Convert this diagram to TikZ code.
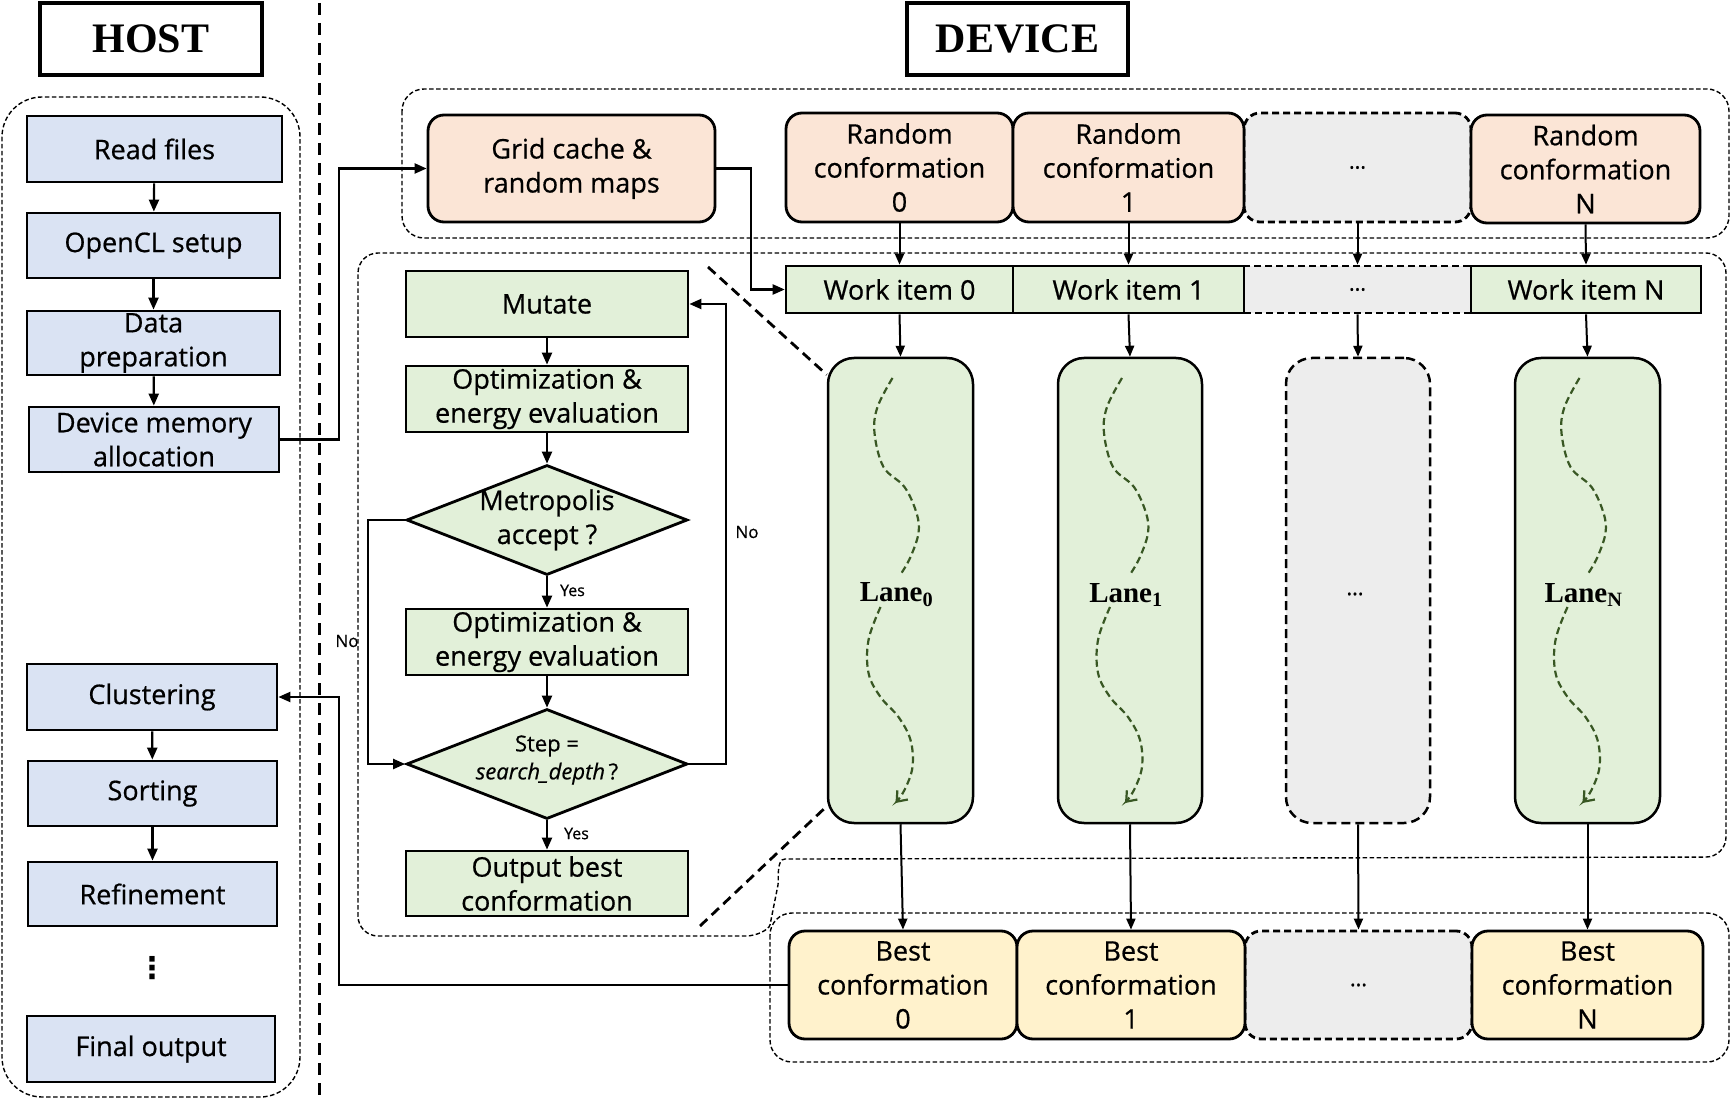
\documentclass[tikz,border=0pt]{standalone}
\usepackage{fontspec}
\setmainfont{Open Sans}[FakeBold=0.6, BoldFont=Open Sans]
\newfontfamily\titlefont{Liberation Serif}
\newfontfamily\dejavu{DejaVu Sans}
\usetikzlibrary{arrows.meta,shapes.geometric,calc}
\definecolor{hostblue}{HTML}{DAE3F3}
\definecolor{peach}{HTML}{FBE5D6}
\definecolor{lgreen}{HTML}{E2F0D9}
\definecolor{lyellow}{HTML}{FFF2CC}
\definecolor{lgray}{HTML}{EDEDED}
\definecolor{wavegreen}{HTML}{385723}
\begin{document}
\begin{tikzpicture}[x=1pt,y=-1pt,
  every node/.style={inner sep=0pt},
  txt/.style={font=\bfseries\fontsize{27}{34}\selectfont, align=center},
  smalltxt/.style={font=\bfseries\fontsize{16}{16}\selectfont},
  titlebox/.style={draw, line width=4pt, minimum width=222pt, minimum height=72pt,
    font=\titlefont\bfseries\fontsize{42}{42}\selectfont},
  hbox/.style={txt, draw, line width=2.8pt, fill=hostblue, minimum height=65pt},
  fbox/.style={txt, draw, line width=2.8pt, fill=lgreen, minimum width=282pt, minimum height=66pt},
  dia/.style={shape=diamond, draw, line width=2.8pt, fill=lgreen, minimum width=281pt, minimum height=110pt},
  rbox/.style={txt, draw, line width=2.8pt, fill=peach, rounded corners=16pt, minimum height=109pt},
  ybox/.style={txt, draw, line width=2.8pt, fill=lyellow, rounded corners=16pt, minimum height=108pt},
  gbox/.style={draw, line width=2.8pt, dash pattern=on 7pt off 4pt, fill=lgray, rounded corners=16pt,
    font=\bfseries\fontsize{22}{22}\selectfont},
  wbox/.style={txt, draw, line width=2.6pt, fill=lgreen, minimum height=47pt},
  wgbox/.style={draw, line width=2.6pt, dash pattern=on 7pt off 4pt, fill=lgray, minimum height=47pt,
    font=\bfseries\fontsize{22}{22}\selectfont},
  lanebox/.style={draw, line width=2.5pt, fill=lgreen, rounded corners=26pt, minimum width=145pt, minimum height=465pt},
  lanegray/.style={draw, line width=2.5pt, dash pattern=on 9pt off 5pt, fill=lgray, rounded corners=26pt,
    minimum width=144pt, minimum height=465pt, font=\bfseries\fontsize{22}{22}\selectfont},
  lanelab/.style={font=\titlefont\bfseries\fontsize{29}{29}\selectfont},
  conn/.style={line width=2.2pt, -{Triangle[length=12pt,width=10pt]}},
  thinconn/.style={line width=2pt, -{Triangle[length=11pt,width=9pt]}},
  cont/.style={line width=1.4pt, dash pattern=on 4.5pt off 2.5pt},
  divider/.style={line width=3pt, dash pattern=on 12pt off 8pt},
  zoomline/.style={line width=2.8pt, dash pattern=on 10pt off 6pt},
  wave/.style={draw=wavegreen, line width=2.2pt, dash pattern=on 7pt off 4pt}
]
\useasboundingbox (0,0) rectangle (1730,1099);

% ---------- containers and divider ----------
\draw[cont, rounded corners=40pt] (2,97) rectangle (300,1097);
\draw[divider] (319,3) -- (319,1097);
\draw[cont, rounded corners=22pt] (402,89) rectangle (1729,238);
\draw[cont, rounded corners=20pt] (358,600) -- (358,253) -- (1726,253) -- (1726,857) -- (805,859)
  .. controls (776,859) and (779,880) .. (774,905)
  .. controls (769,930) and (756,936) .. (726,936) -- (358,936) -- cycle;
\draw[cont, rounded corners=22pt] (770,913) rectangle (1729,1062);

% ---------- titles ----------
\node[titlebox] (hosttitle) at (151,39) {HOST};
\node[titlebox, minimum width=221pt] (devtitle) at (1017.5,39) {DEVICE};

% ---------- host column ----------
\node[hbox, minimum width=255pt, minimum height=66pt] (readf) at (154.5,149) {Read files};
\node[hbox, minimum width=253pt] (opencl) at (153.5,245.5) {OpenCL setup};
\node[hbox, minimum width=253pt, minimum height=64pt] (dataprep) at (153.5,343) {Data\\preparation};
\node[hbox, minimum width=250pt] (devmem) at (154,439.5) {Device memory\\allocation};
\node[hbox, minimum width=250pt, minimum height=66pt] (clust) at (152,697) {Clustering};
\node[hbox, minimum width=249pt] (sorting) at (152.5,793.5) {Sorting};
\node[hbox, minimum width=249pt, minimum height=64pt] (refine) at (152.5,894) {Refinement};
\node (hdots) at (152,968) {\dejavu\bfseries\fontsize{30}{30}\selectfont ⋮};
\node[hbox, minimum width=248pt, minimum height=66pt] (final) at (151,1049) {Final output};

\draw[conn] (readf) -- (opencl);
\draw[conn] (opencl) -- (dataprep);
\draw[conn] (dataprep) -- (devmem);
\draw[conn] (clust) -- (sorting);
\draw[conn] (sorting) -- (refine);

% ---------- top row ----------
\node[rbox, minimum width=287pt, minimum height=107pt] (grid) at (571.5,168.5) {Grid cache \&\\random maps};
\node[gbox, minimum width=227pt, minimum height=109pt] (rcdots) at (1357.5,167.5) {…};
\node[rbox, minimum width=227pt] (rc0) at (899.5,167.5) {Random\\conformation\\0};
\node[rbox, minimum width=231pt] (rc1) at (1128.5,167.5) {Random\\conformation\\1};
\node[rbox, minimum width=229pt, minimum height=108pt] (rcN) at (1585.5,169) {Random\\conformation\\N};

% ---------- work items ----------
\node[wgbox, minimum width=227pt] (widots) at (1357.5,289.5) {…};
\node[wbox, minimum width=227pt] (wi0) at (899.5,289.5) {Work item 0};
\node[wbox, minimum width=231pt] (wi1) at (1128.5,289.5) {Work item 1};
\node[wbox, minimum width=230pt] (wiN) at (1586,289.5) {Work item N};

\draw[thinconn] (rc0.south) -- (wi0.north);
\draw[thinconn] (rc1.south) -- (wi1.north);
\draw[thinconn] (rcdots.south) -- (widots.north);
\draw[thinconn] (rcN.south) -- (wiN.north);

% ---------- lanes ----------
\node[lanebox] (lane0) at (900.5,590.5) {};
\node[lanebox, minimum width=144pt] (lane1) at (1130,590.5) {};
\node[lanegray] (lanedots) at (1358,590.5) {};
\node[lanebox] (laneN) at (1587.5,590.5) {};
\node[lanelab] (lab0) at (896.5,595) {Lane\textsubscript{0}};
\node[lanelab] (lab1) at (1126,595) {Lane\textsubscript{1}};
\node[font=\bfseries\fontsize{22}{22}\selectfont] (labdots) at (1355,594) {…};
\node[lanelab] (labN) at (1583.5,595) {Lane\textsubscript{N}};

\foreach \L in {lane0,lane1,laneN}{
  \begin{scope}[shift={(\L.center)}]
    \draw[wave] plot[smooth, tension=0.6] coordinates {(-8,-212.5) (-23,-183.5) (-26,-157.5) (-17,-123.5) (4,-103.5) (16,-77.5) (18,-57.5) (10,-33.5) (1,-17.5)};
    \draw[wave, -{Straight Barb[length=9pt,width=14pt]}] plot[smooth, tension=0.6] coordinates {(-20,16.5) (-32,49.5) (-32,82.5) (-20,106.5) (-2,126.5) (10,149.5) (12,176.5) (4,199.5) (-5,212.5)};
  \end{scope}
}

\draw[thinconn] (wi0.south) -- (lane0.north);
\draw[thinconn] (wi1.south) -- (lane1.north);
\draw[thinconn] (widots.south) -- (lanedots.north);
\draw[thinconn] (wiN.south) -- (laneN.north);

% ---------- best conformations ----------
\node[gbox, minimum width=227pt, minimum height=108pt] (bdots) at (1358.5,985) {…};
\node[ybox, minimum width=228pt] (best0) at (903,985) {Best\\conformation\\0};
\node[ybox, minimum width=228pt] (best1) at (1131,985) {Best\\conformation\\1};
\node[ybox, minimum width=231pt] (bestN) at (1587.5,985) {Best\\conformation\\N};

\draw[thinconn] (lane0.south) -- (best0.north);
\draw[thinconn] (lane1.south) -- (best1.north);
\draw[thinconn] (lanedots.south) -- (bdots.north);
\draw[thinconn] (laneN.south) -- (bestN.north);

% ---------- flowchart ----------
\node[fbox] (mutate) at (547,304) {Mutate};
\node[fbox] (opt1) at (547,399) {Optimization \&\\energy evaluation};
\node[dia, label={[txt, name=metrotxt]center:{Metropolis\\accept ?}}] (metro) at (547,520) {};
\node[fbox] (opt2) at (547,642) {Optimization \&\\energy evaluation};
\node[dia, label={[txt, font=\bfseries\fontsize{22}{28}\selectfont, name=steptxt, yshift=4pt]center:{Step =\\\textit{search\_depth}\,?}}] (step) at (547,764) {};
\node[fbox, minimum height=65pt] (outbest) at (547,883.5) {Output best\\conformation};

\draw[conn] (mutate) -- (opt1);
\draw[conn] (opt1) -- (metro.north);
\draw[conn] (metro.south) -- (opt2.north) node[smalltxt, pos=0.45, right=12pt] (yes1) {Yes};
\draw[conn] (opt2) -- (step.north);
\draw[conn] (step.south) -- (outbest.north) node[smalltxt, pos=0.45, right=16pt] (yes2) {Yes};
\draw[conn] (metro.west) -- (368,520) -- (368,764) -- (step.west);
\draw[conn] (step.east) -- (726,764) -- (726,304) -- (mutate.east);
\node[smalltxt, font=\bfseries\fontsize{17}{17}\selectfont] (no1) at (347,641) {No};
\node[smalltxt, font=\bfseries\fontsize{17}{17}\selectfont] (no2) at (747,532) {No};

% ---------- zoom callout lines ----------
\coordinate (zA) at (708,267);
\coordinate (zB) at (700,926);
\draw[zoomline] (zA) -- ($(lane0.north west)+(0,18)$);
\draw[zoomline] (zB) -- ($(lane0.south west)+(0,-18)$);

% ---------- cross connectors ----------
\draw[conn] (devmem.east) -- (339,439.5) -- (339,168.5) -- (grid.west);
\draw[conn] (grid.east) -- (751,168.5) -- (751,289.5) -- (wi0.west);
\draw[conn] (best0.west) -- (339,985) -- (339,697) -- (clust.east);
\end{tikzpicture}
\end{document}
